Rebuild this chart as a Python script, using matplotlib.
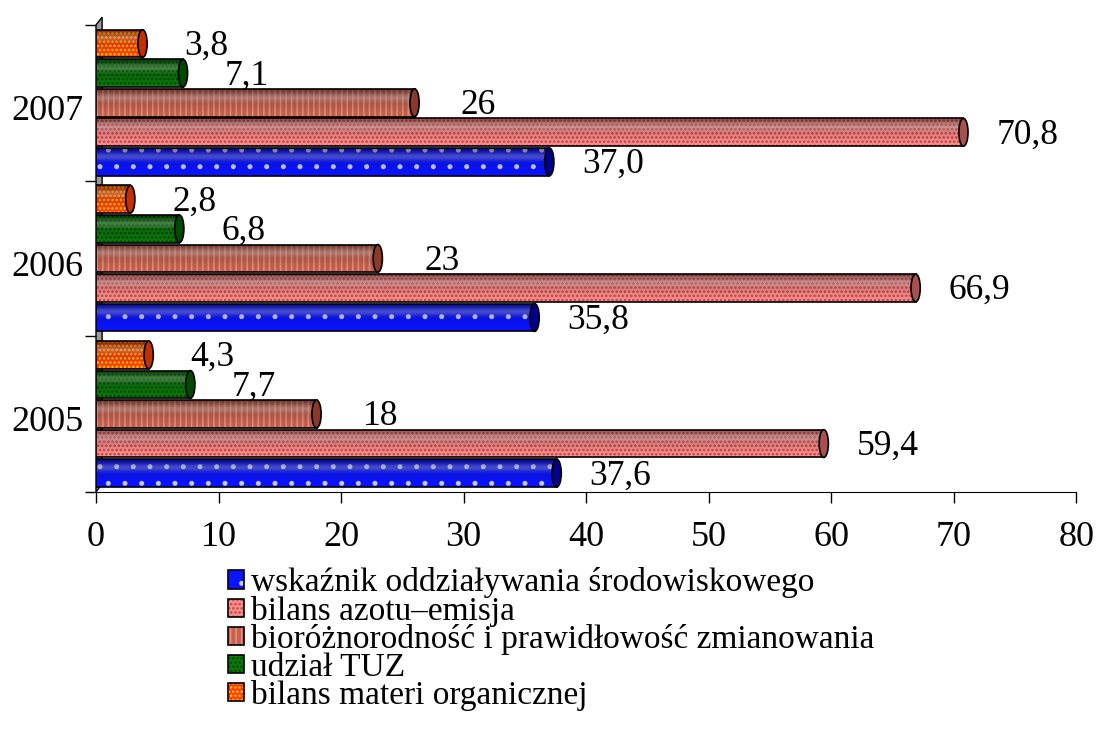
import numpy as np
import matplotlib.pyplot as plt
from matplotlib.patches import Rectangle, Ellipse, Polygon, Patch
from matplotlib.legend_handler import HandlerTuple

years = ['2005', '2006', '2007']
series = ['wskaźnik oddziaływania środowiskowego',
          'bilans azotu–emisja',
          'bioróżnorodność i prawidłowość zmianowania',
          'udział TUZ',
          'bilans materi organicznej']
# one list per series, ordered 2005, 2006, 2007
wskaznik = [37.6, 35.8, 37.0]
azot = [59.4, 66.9, 70.8]
bioroznorodnosc = [18, 23, 26]
tuz = [7.7, 6.8, 7.1]
materia = [4.3, 2.8, 3.8]
value_labels = [['37,6', '35,8', '37,0'],
                ['59,4', '66,9', '70,8'],
                ['18', '23', '26'],
                ['7,7', '6,8', '7,1'],
                ['4,3', '2,8', '3,8']]

values = [wskaznik, azot, bioroznorodnosc, tuz, materia]
faces = ['#0a14ff', '#ff8c8c', '#c4614f', '#0a7a0a', '#ff3c00']
hatch_cols = ['#c8ccff', '#b34848', '#e88c78', '#004400', '#ffd000']
hatches = ['.', '....', '|||', '....', '....']
caps = ['#00008a', '#a85050', '#8a3a2a', '#004a00', '#c03000']

plt.rcParams['font.family'] = ['Liberation Serif', 'DejaVu Serif']
plt.rcParams['hatch.linewidth'] = 1.2

fig = plt.figure(figsize=(10.97, 7.33), dpi=100)
ax = fig.add_axes([0.0875, 0.329, 0.8935, 0.637])

step = 0.19
h = 0.178
ypos = np.arange(len(years))

# vertical shading for the cylinder look
grad = np.linspace(0, 1, 64)
shade = np.zeros((64, 1, 4))
shade[..., 3] = (0.45 * grad ** 1.6)[:, None]
light = np.ones((64, 1, 4))
light[..., 3] = (0.25 * np.exp(-((grad - 0.3) / 0.15) ** 2))[:, None]

for i, vals in enumerate(values):
    for j, v in enumerate(vals):
        yc = ypos[j] + (i - 2) * step
        body = Rectangle((0, yc - h / 2), v, h, facecolor=faces[i],
                         edgecolor=hatch_cols[i], hatch=hatches[i], lw=0, zorder=2)
        ax.add_patch(body)
        for img in (shade, light):
            im = ax.imshow(img, extent=(0, v, yc - h / 2, yc + h / 2),
                           aspect='auto', zorder=3, origin='lower' if img is shade else 'upper')
            im.set_clip_path(body)
        ax.add_patch(Rectangle((0, yc - h / 2), v, h, facecolor='none',
                               edgecolor='black', lw=1.2, zorder=4))
        ax.add_patch(Ellipse((v, yc), 0.75, h, facecolor=caps[i],
                             edgecolor='black', lw=1.2, zorder=5))
        ax.annotate(value_labels[i][j], (v, yc), xytext=(46, -2),
                    textcoords='offset points', ha='center', va='center',
                    fontsize=25.5, zorder=6)

# grey side wall
ax.add_patch(Polygon([(0, -0.5), (0.5, -0.45), (0.5, 2.55), (0, 2.5)],
                     closed=True, facecolor='#9a9a9a', edgecolor='black',
                     lw=1, zorder=1, clip_on=False))

ax.set_xlim(0, 80)
ax.set_ylim(-0.5, 2.5)
ax.set_xticks(range(0, 81, 10))
ax.set_yticks(ypos - 0.03)
ax.set_yticklabels(years)
ax.set_yticks([-0.5, 0.5, 1.5, 2.5], minor=True)
ax.tick_params(axis='y', which='major', length=0, pad=9, labelsize=26)
ax.tick_params(axis='y', which='minor', length=8, width=1)
ax.tick_params(axis='x', length=8, width=1, pad=13, labelsize=26)
for s in ('top', 'right'):
    ax.spines[s].set_visible(False)
ax.spines['left'].set_visible(False)

handles = [(Patch(facecolor=faces[i], edgecolor=hatch_cols[i], hatch=hatches[i], lw=0),
            Patch(facecolor='none', edgecolor='black', lw=1.2))
           for i in range(len(series))]
fig.legend(handles, series, loc='upper left', bbox_to_anchor=(0.208, 0.226),
           frameon=False, fontsize=24, handlelength=0.47, handleheight=0.47,
           handletextpad=0.2, labelspacing=-0.08, borderpad=0, borderaxespad=0,
           handler_map={tuple: HandlerTuple(ndivide=1)})

fig.savefig('out.png', dpi=100)
